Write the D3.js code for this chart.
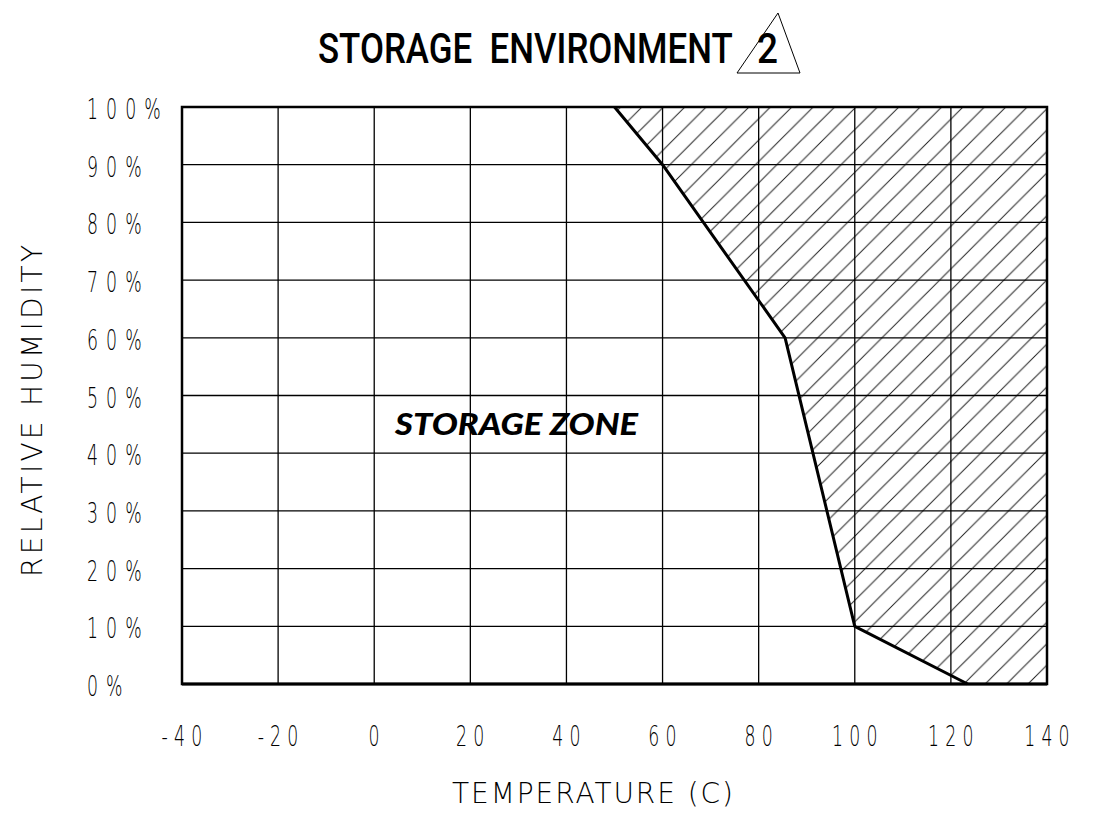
<!DOCTYPE html>
<html>
<head>
<meta charset="utf-8">
<script src="https://cdn.jsdelivr.net/npm/d3@7"></script>
<style>
  body { margin: 0; background: #fff; }
  svg { display: block; }
  .thin { font-family: 'DejaVu Sans', sans-serif; font-weight: 200; fill: #000; }
</style>
</head>
<body>
<script>
// chart data
var tempTicks = [-40, -20, 0, 20, 40, 60, 80, 100, 120, 140];
var rhTicks = [0, 10, 20, 30, 40, 50, 60, 70, 80, 90, 100];
// storage limit line
var limitTemp = [50, 60, 85.5, 100, 123.5];
var limitRH = [100, 90, 60, 10, 0];

var width = 1099, height = 817;
var svg = d3.select('body').append('svg')
  .attr('width', width)
  .attr('height', height);

var x = d3.scaleLinear().domain([-40, 140]).range([182, 1047]);
var y = d3.scaleLinear().domain([0, 100]).range([684, 107]);

// squeeze a text horizontally so it is w px wide
function fit(t, px, py, w){
  var n = t.node().getComputedTextLength();
  t.attr('transform', 'translate(' + px + ',' + py + ') scale(' + (w / n) + ',1)');
}

// hatch pattern
var hs = 21.4;
svg.append('defs').append('pattern')
  .attr('id', 'hatch')
  .attr('patternUnits', 'userSpaceOnUse')
  .attr('width', hs).attr('height', hs)
  .append('path')
  .attr('d', 'M0,' + hs + ' L' + hs + ',0 M-3,3 L3,-3 M' + (hs - 3) + ',' + (hs + 3) + ' L' + (hs + 3) + ',' + (hs - 3))
  .attr('stroke', '#222')
  .attr('stroke-width', 1);

var limit = limitTemp.map(function(t, i){ return [t, limitRH[i]]; });
var line = d3.line().x(function(d){ return x(d[0]); }).y(function(d){ return y(d[1]); });

// hatched (no storage) area
var area = limit.concat([[140, 0], [140, 100]]);
svg.append('path')
  .attr('d', line(area) + 'Z')
  .attr('fill', 'url(#hatch)');

// grid
svg.selectAll('.vgrid').data(tempTicks).enter().append('line')
  .attr('class', 'vgrid')
  .attr('x1', function(d){ return x(d); }).attr('x2', function(d){ return x(d); })
  .attr('y1', y(0)).attr('y2', y(100))
  .attr('stroke', '#000').attr('stroke-width', 1.3);

svg.selectAll('.hgrid').data(rhTicks).enter().append('line')
  .attr('class', 'hgrid')
  .attr('x1', x(-40)).attr('x2', x(140))
  .attr('y1', function(d){ return y(d); }).attr('y2', function(d){ return y(d); })
  .attr('stroke', '#000').attr('stroke-width', 1.3);

// frame
svg.append('rect')
  .attr('x', x(-40)).attr('y', y(100))
  .attr('width', x(140) - x(-40)).attr('height', y(0) - y(100))
  .attr('fill', 'none').attr('stroke', '#000').attr('stroke-width', 2.5);
svg.append('line')
  .attr('x1', x(-40)).attr('x2', x(140))
  .attr('y1', y(0)).attr('y2', y(0))
  .attr('stroke', '#000').attr('stroke-width', 3);

// limit line
svg.append('path')
  .attr('d', line(limit))
  .attr('fill', 'none').attr('stroke', '#000').attr('stroke-width', 3)
  .attr('stroke-linejoin', 'round');

// tick labels (CAD style: narrow glyphs, wide spacing)
var sx = 0.62;
svg.selectAll('.xlab').data(tempTicks).enter().append('text')
  .attr('class', 'thin')
  .attr('transform', function(d){ return 'translate(' + (x(d) + 3) + ',746) scale(' + sx + ',1)'; })
  .attr('text-anchor', 'middle')
  .attr('font-size', 28)
  .attr('letter-spacing', 10)
  .text(function(d){ return d; });

svg.selectAll('.ylab').data(rhTicks).enter().append('text')
  .attr('class', 'thin')
  .attr('transform', function(d){ return 'translate(87,' + (y(d) + 12) + ') scale(' + sx + ',1)'; })
  .attr('font-size', 28)
  .attr('letter-spacing', 13)
  .text(function(d){ return d + '%'; });

// axis titles
svg.append('text')
  .attr('class', 'thin')
  .attr('x', 452).attr('y', 803)
  .attr('font-size', 28)
  .attr('textLength', 281).attr('lengthAdjust', 'spacing')
  .text('TEMPERATURE (C)');

svg.append('text')
  .attr('class', 'thin')
  .attr('transform', 'translate(42,577) rotate(-90)')
  .attr('font-size', 28)
  .attr('textLength', 332).attr('lengthAdjust', 'spacing')
  .text('RELATIVE HUMIDITY');

// zone label
svg.append('text')
  .attr('x', 395).attr('y', 435)
  .attr('font-family', 'Lato, sans-serif')
  .attr('font-weight', 900)
  .attr('font-style', 'italic')
  .attr('font-size', 30)
  .attr('textLength', 243).attr('lengthAdjust', 'spacingAndGlyphs')
  .text('STORAGE ZONE');

// title
var title = svg.append('text')
  .attr('font-family', 'Roboto, sans-serif')
  .attr('font-weight', 500)
  .attr('font-size', 42)
  .style('white-space', 'pre')
  .text('STORAGE  ENVIRONMENT');
fit(title, 318, 63, 415);

svg.append('path')
  .attr('d', 'M737,73 L778,13 L800,73 Z')
  .attr('fill', 'none').attr('stroke', '#000').attr('stroke-width', 1);

var two = svg.append('text')
  .attr('font-family', 'Roboto, sans-serif')
  .attr('font-weight', 500)
  .attr('font-size', 42)
  .text('2');
fit(two, 757, 63, 21);
</script>
</body>
</html>
